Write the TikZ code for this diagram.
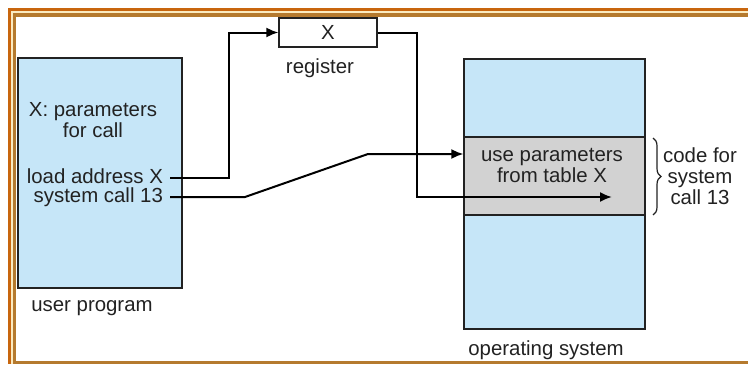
\documentclass[tikz,border=0pt]{standalone}
\usepackage{fontspec}
\setmainfont{Liberation Sans}
\usetikzlibrary{arrows.meta,decorations.pathreplacing}

\definecolor{memblue}{HTML}{C6E6F8}
\definecolor{codegray}{HTML}{D2D2D2}
\definecolor{framedark}{HTML}{C8660E}
\definecolor{framecream}{HTML}{FBEBC0}
\definecolor{framebrown}{HTML}{B57A2E}
\definecolor{inkgray}{HTML}{222222}

\begin{document}
\begin{tikzpicture}[x=0.5pt, y=-0.5pt,
    every node/.style={font=\fontsize{10.2}{10.5}\selectfont, text=inkgray},
    membox/.style={draw=inkgray, line width=0.6pt, fill=memblue, inner sep=0pt},
    codebox/.style={draw=inkgray, line width=0.6pt, fill=codegray, align=center, inner sep=0pt},
    regbox/.style={draw=inkgray, line width=0.6pt, fill=white, inner sep=0pt},
    tightline/.style={anchor=east, inner ysep=0.3pt, text height=7.2pt, text depth=1.6pt},
    conn/.style={draw=black, line width=1pt},
    arr/.style={conn, -{Latex[length=6pt, width=5pt]}},
    curly/.style={draw=inkgray, line width=0.6pt, decorate, decoration={brace, amplitude=4pt}}]
    \useasboundingbox (0,0) rectangle (748,364);
    % frame
    \fill[framedark] (8,8) rectangle (748,364);
    \fill[framecream] (11,11) rectangle (748,364);
    \fill[framebrown] (13,13) rectangle (748,364);
    \fill[white] (16,17) rectangle (748,361);
    % memory blocks
    \node[membox, minimum width=82pt, minimum height=115pt] (user) at (100,173) {};
    \node[membox, minimum width=90.5pt, minimum height=135pt] (os) at (554.5,194) {};
    \node[codebox, minimum width=90.5pt, minimum height=39pt] (syscode) at (554.5,176) {};
    \node[regbox, minimum width=49pt, minimum height=14.5pt] (reg) at (328,32.5) {X};
    % texts
    \node[align=center] (params) at (93,120.5) {X: parameters\\for call};
    \node[tightline] (ldaddr) at (170,178) {load address X};
    \node[tightline] (syscall) at (170,197) {system call 13};
    \node (reglbl) at (320,68) {register};
    \node (userlbl) at (92,308) {user program};
    \node (oslbl) at (546,350) {operating system};
    \node[align=center] (usetxt) at (552,165.5) {use parameters\\from table X};
    \node[align=center] (codelbl) at (700,176) {code for\\system\\call 13};
    % connectors
    \coordinate (regout) at (612,197);
    \draw[arr] (ldaddr.east) -- (229,178) |- (reg.west);
    \draw[arr] (syscall.east) -- (245,197) -- (368,154) -- (syscode.west |- 368,154);
    \draw[arr] (reg.east) -- (417,32.5) |- (regout);
    \draw[curly] (653,138) -- (653,215);
\end{tikzpicture}
\end{document}
